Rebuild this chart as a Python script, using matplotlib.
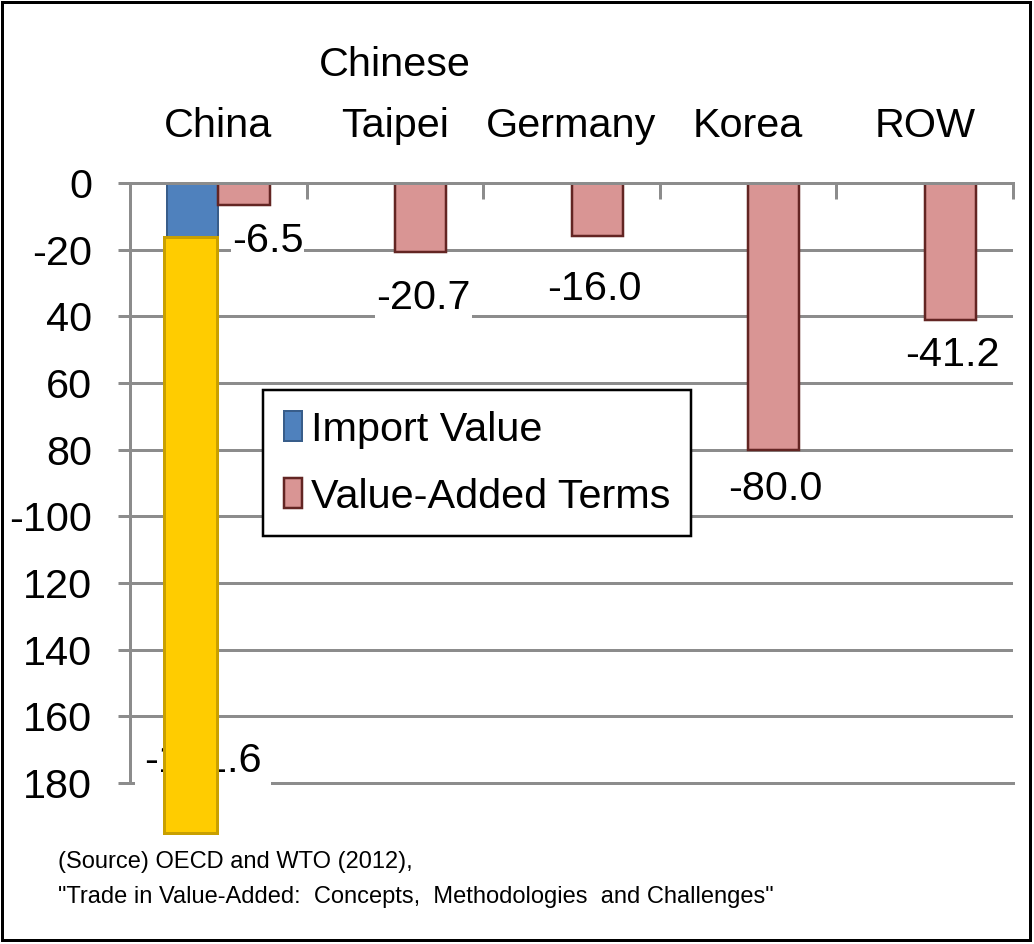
import numpy as np
import matplotlib
matplotlib.use('Agg')
import matplotlib.pyplot as plt
from matplotlib import font_manager
from matplotlib.patches import Rectangle


# data
countries = ['China', 'Chinese\nTaipei', 'Germany', 'Korea', 'ROW']
import_value = [-191.6]            # only China has an import-value bar
import_label = '-191.6'
value_added = [-6.5, -20.7, -16.0, -80.0, -41.2]
highlight_span = [-16.2, -195.0]   # yellow box laid over China's import bar

y_ticks = [0, -20, -40, -60, -80, -100, -120, -140, -160, -180]
y_tick_labels = ['0', '-20', '40', '60', '80', '-100', '120', '140', '160', '180']

source_lines = ['(Source) OECD and WTO (2012),',
				'"Trade in Value-Added:  Concepts,  Methodologies  and Challenges"']

# layout (pixels of the 1034x944 picture)
W, H = 1034, 944
label_dx = [24, 3, -3, 2, 2]
label_gap = [17, 27, 34, 20, 16]

GRID = '#8c8c8c'
BLUE, BLUE_EDGE = '#4f81bd', '#385d8a'
PINK, PINK_EDGE = '#d99594', '#632523'
YELLOW, YELLOW_EDGE = '#ffcc00', '#c9a000'


def pt(px):
	return px * 0.72


names = {f.name for f in font_manager.fontManager.ttflist}
if 'Liberation Sans Narrow' in names:
	FONT, scale = 'Liberation Sans Narrow', 1.0
else:
	FONT, scale = 'Liberation Sans', 0.85

plt.rcParams['font.family'] = [FONT, 'DejaVu Sans']
FS = 35 * scale

fig = plt.figure(figsize=(W / 100, H / 100), dpi=100)
ax = fig.add_axes([130 / W, 1 - 783 / H, 883 / W, 600 / H])

x = np.arange(len(countries))
bar_w = 0.29
off = 0.145

blue = ax.bar(x[:len(import_value)] - off, import_value, bar_w, color=BLUE, edgecolor=BLUE_EDGE,
			  linewidth=pt(2), label='Import Value')
pink = ax.bar(x + off, value_added, bar_w, color=PINK, edgecolor=PINK_EDGE,
			  linewidth=pt(2.5), label='Value-Added Terms')

ax.set_xlim(-0.5, len(countries) - 0.5)
ax.set_ylim(-180, 0)
ax.set_axisbelow(True)

# value labels under the pink bars
for i, v in enumerate(value_added):
	ax.annotate(f'{v:.1f}', xy=(x[i] + off, v), xytext=(label_dx[i], -label_gap[i]),
				textcoords='offset pixels', ha='center', va='top', fontsize=FS,
				bbox=dict(fc='white', ec='none', pad=0.5), zorder=4)

# China's import label sits at the bottom of the axis, mostly hidden by the yellow box
ax.annotate(import_label, xy=(x[0] - off, -180), xytext=(10, 3), textcoords='offset pixels',
			ha='center', va='bottom', fontsize=FS,
			bbox=dict(fc='white', ec='none', pad=pt(9)), zorder=4)

ax.bar(x[0] - off - 0.01, highlight_span[1] - highlight_span[0], 0.3, bottom=highlight_span[0],
	   color=YELLOW, edgecolor=YELLOW_EDGE, linewidth=pt(3), clip_on=False, zorder=6)

# y axis
ax.set_yticks(y_ticks)
ax.set_yticklabels(y_tick_labels, fontsize=FS)
ax.tick_params(axis='y', direction='out', length=pt(12), width=pt(3), color=GRID, pad=pt(26))
ax.yaxis.grid(True, color=GRID, linewidth=pt(3))

# category labels on top, tick marks between categories
ax.xaxis.tick_top()
ax.set_xticks(x)
ax.set_xticklabels(countries, fontsize=FS)
ax.set_xticks(np.arange(len(countries) + 1) - 0.5, minor=True)
ax.tick_params(axis='x', which='major', length=0, pad=pt(38))
ax.tick_params(axis='x', which='minor', direction='in', length=pt(16), width=pt(3), color=GRID)
for lab in ax.get_xticklabels():
	lab.set_linespacing(1.75)

ax.spines['right'].set_visible(False)
for side in ['top', 'left', 'bottom']:
	ax.spines[side].set_color(GRID)
	ax.spines[side].set_linewidth(pt(3))

leg = ax.legend(handles=[blue, pink], loc='upper left',
				bbox_to_anchor=(263 / W, 1 - 390 / H), bbox_transform=fig.transFigure,
				borderaxespad=0, fontsize=FS, handlelength=0.45, handleheight=0.75,
				handletextpad=0.22, labelspacing=0.7, borderpad=0.5,
				fancybox=False, edgecolor='black', framealpha=1)
leg.get_frame().set_linewidth(pt(2.5))

fig.text(58 / W, 1 - 868 / H, source_lines[0], fontsize=20 * scale, va='baseline')
fig.text(58 / W, 1 - 903 / H, source_lines[1], fontsize=20 * scale, va='baseline')

fig.add_artist(Rectangle((2 / W, 4 / H), 1028 / W, 938 / H, transform=fig.transFigure,
						 fill=False, edgecolor='black', linewidth=pt(3)))

fig.savefig('out.png', dpi=100)
